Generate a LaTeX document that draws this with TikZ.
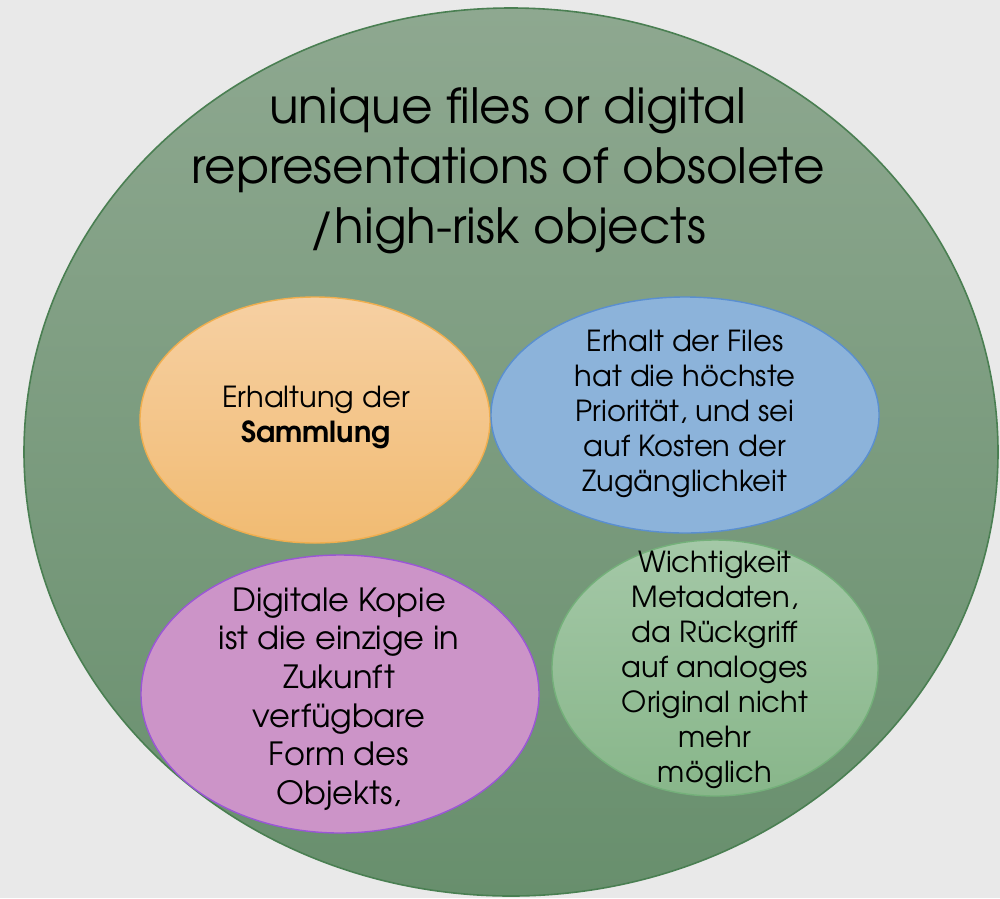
\documentclass[tikz,border=0pt]{standalone}
\usepackage{fontspec}
\setmainfont{TeX Gyre Adventor}
\definecolor{bggray}{HTML}{E9E9E9}
\definecolor{outertop}{HTML}{8EA890}
\definecolor{outerbot}{HTML}{688F6D}
\definecolor{outerline}{HTML}{4A7F52}
\definecolor{orangetop}{HTML}{F6D0A3}
\definecolor{orangebot}{HTML}{F1BB72}
\definecolor{orangeline}{HTML}{F0AE4E}
\definecolor{bluefill}{HTML}{8CB3DA}
\definecolor{blueline}{HTML}{5A8FD0}
\definecolor{purplefill}{HTML}{CC94C8}
\definecolor{purpleline}{HTML}{9A56D6}
\definecolor{greentop}{HTML}{A4C8A7}
\definecolor{greenbot}{HTML}{88B68A}
\definecolor{greenline}{HTML}{74B07A}

\begin{document}
\begin{tikzpicture}[x=1pt, y=-1pt,
    blob/.style={line width=1.4pt},
    txt/.style={align=center, inner sep=0pt, font=\fontsize{29}{35}\selectfont}]
        % background and outer circle
        \fill[bggray] (0,0) rectangle (1000,898);
        \path[draw=outerline, line width=1.6pt, top color=outertop, bottom color=outerbot]
            (511,452) ellipse [x radius=487, y radius=444];
        \node[txt, font=\fontsize{48.5}{60}\selectfont] (title) at (508,171)
            {unique files or digital\\representations of obsolete\\/high-risk objects};

        % the four inner ellipses
        \path[blob, draw=orangeline, top color=orangetop, bottom color=orangebot]
            (315,420) ellipse [x radius=175, y radius=123];
        \path[blob, draw=blueline, fill=bluefill]
            (685,415) ellipse [x radius=194, y radius=118];
        \path[blob, draw=purpleline, fill=purplefill]
            (340,694) ellipse [x radius=199, y radius=139];
        \path[blob, draw=greenline, top color=greentop, bottom color=greenbot]
            (715,668) ellipse [x radius=163, y radius=128];

        \node[txt] (sammlung) at (316,417) {Erhaltung der\\\textbf{Sammlung}};
        \node[txt] (files) at (685,414) {Erhalt der Files\\hat die höchste\\Priorität, und sei\\auf Kosten der\\Zugänglichkeit};
        \node[txt, font=\fontsize{32}{38.6}\selectfont] (kopie) at (339,699)
            {Digitale Kopie\\ist die einzige in\\Zukunft\\verfügbare\\Form des\\Objekts,};
        \node[txt] (metadaten) at (715,670)
            {Wichtigkeit\\Metadaten,\\da Rückgriff\\auf analoges\\Original nicht\\mehr\\möglich};
    \end{tikzpicture}
\end{document}
